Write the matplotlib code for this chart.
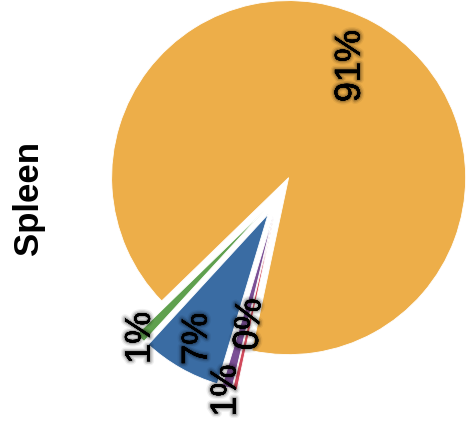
import matplotlib
matplotlib.use("Agg")
import matplotlib.pyplot as plt
import matplotlib.patheffects as pe
import numpy as np

# Share of cells per type in spleen
categories = ["Type A", "Type B", "Type C", "Type D", "Type E"]
shares = [90.6, 0.9, 7.2, 0.9, 0.4]
colors = ["#edae49", "#5fa04e", "#3a6ca3", "#7b4f95", "#d1495b"]
pct_labels = ["91%", "1%", "7%", "1%", "0%"]
panel_title = "Spleen"

W, H = 466, 431
fig = plt.figure(figsize=(W / 100, H / 100), dpi=100)
ax = fig.add_axes([0, 0, 1, 1])

radius = 177
center = (278.5, H - 197.0)
explode = [21] * len(shares)

wedges, _ = ax.pie(
    shares, colors=colors, radius=radius, center=center, explode=explode,
    startangle=258.0, counterclock=True, frame=True,
    wedgeprops=dict(edgecolor="white", linewidth=0.6),
)
ax.set_xlim(0, W)
ax.set_ylim(0, H)
ax.set_aspect("equal")
ax.axis("off")

# label distance (fraction of radius) and rotation per slice
label_dist = [0.72, 1.0, 0.81, 1.02, 0.625]
label_rot = [90, 90, 90, 90, 86]

glow = [pe.withStroke(linewidth=6, foreground=(0, 0, 0, 0.06)),
        pe.withStroke(linewidth=4, foreground=(0, 0, 0, 0.12)),
        pe.withStroke(linewidth=2, foreground=(0, 0, 0, 0.2)),
        pe.Normal()]

for w, txt, d, rot in zip(wedges, pct_labels, label_dist, label_rot):
    th = np.deg2rad(0.5 * (w.theta1 + w.theta2))
    cx, cy = w.center
    x = cx + d * w.r * np.cos(th)
    y = cy + d * w.r * np.sin(th)
    ax.text(x, y, txt, rotation=rot, ha="center", va="center",
            fontsize=26, family="Liberation Sans", color="black",
            path_effects=glow)

fig.text(28 / W, 1 - 198 / H, panel_title, rotation=90, ha="center",
         va="center", fontsize=25, fontweight="bold", family="Liberation Sans")

fig.savefig("out.png", dpi=100)
